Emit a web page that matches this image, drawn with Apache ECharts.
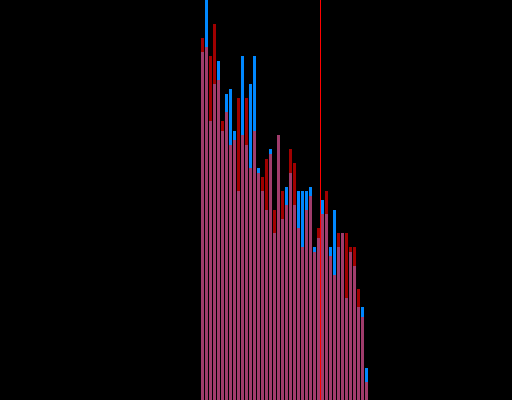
<!DOCTYPE html>
<html>
<head>
<meta charset="utf-8">
<script src="https://cdn.jsdelivr.net/npm/echarts@6/dist/echarts.min.js"></script>
<style>
html,body{margin:0;padding:0;background:#000;}
#chart{width:512px;height:400px;}
</style>
</head>
<body>
<div id="chart"></div>
<script>
// Bin centres (x units)
const bins = [0.5,1.5,2.5,3.5,4.5,5.5,6.5,7.5,8.5,9.5,10.5,11.5,12.5,13.5,14.5,15.5,16.5,17.5,18.5,19.5,20.5,
              21.5,22.5,23.5,24.5,25.5,26.5,27.5,28.5,29.5,30.5,31.5,32.5,33.5,34.5,35.5,36.5,37.5,38.5,39.5,40.5,41.5];
// Blue histogram values
const blueValues = [348,420,279,316,339,269,306,311,269,209,344,255,316,344,232,209,190,251,167,265,181,
                    213,227,195,209,209,209,213,153,162,200,186,153,190,153,167,102,148,134,93,93,32];
// Dark red histogram values
const redValues  = [362,353,344,376,320,279,288,255,260,302,265,302,232,269,227,223,241,246,190,265,209,
                    195,251,237,172,153,190,204,148,172,186,209,144,125,167,167,167,153,153,111,83,18];
// Vertical marker position (x units)
const markerX = 30;

const overlap = blueValues.map((v, i) => Math.min(v, redValues[i]));
const pair = arr => arr.map((v, i) => [bins[i], v]);

const chart = echarts.init(document.getElementById('chart'), null, {renderer: 'canvas'});
chart.setOption({
  backgroundColor: '#000',
  animation: false,
  grid: {left: 200.5, top: 0, width: 168, height: 400, containLabel: false},
  xAxis: {type: 'value', min: 0, max: 42, show: false, splitLine: {show: false}},
  yAxis: {type: 'value', min: 0, max: 400, show: false, splitLine: {show: false}},
  series: [
    {type: 'bar', data: pair(blueValues), barWidth: 3, barGap: '-100%', itemStyle: {color: '#0088ff'}, z: 1},
    {type: 'bar', data: pair(redValues), barWidth: 3, barGap: '-100%', itemStyle: {color: '#a00000'}, z: 2},
    {type: 'bar', data: pair(overlap), barWidth: 3, barGap: '-100%', itemStyle: {color: '#a03c6c'}, z: 3,
     markLine: {symbol: 'none', silent: true, label: {show: false},
                lineStyle: {color: '#ff0000', width: 1, type: 'solid'},
                data: [{xAxis: markerX}]}}
  ]
});
</script>
</body>
</html>
